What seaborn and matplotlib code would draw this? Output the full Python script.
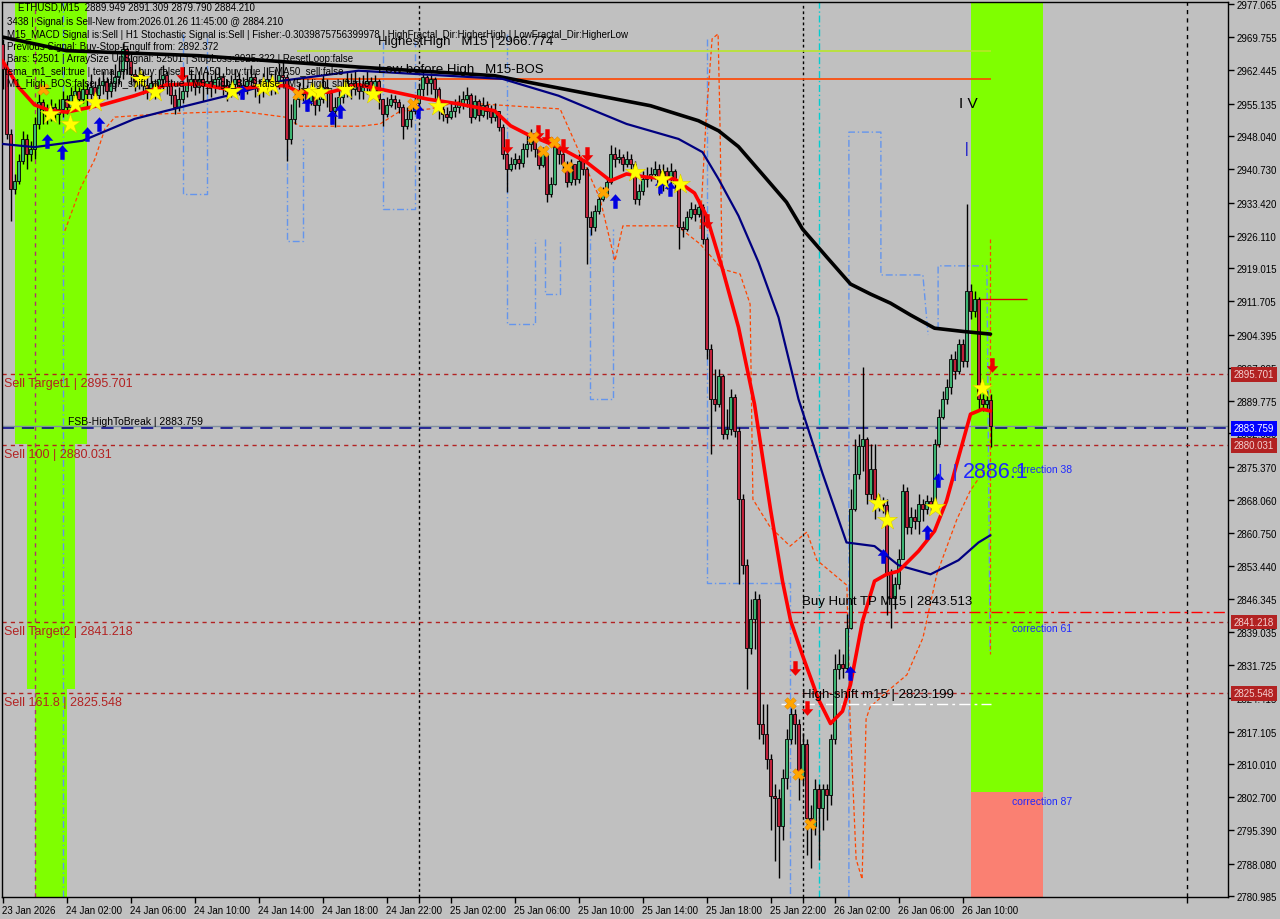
import numpy as np
import pandas as pd
import matplotlib
matplotlib.use("Agg")
import matplotlib.pyplot as plt
import matplotlib.transforms as mtransforms
from matplotlib.path import Path
import seaborn as sns

# ---------------- data ----------------
open_first = 2968.3
close = [2962.8, 2948.5, 2936.4, 2938.2, 2942.6, 2947.4, 2944.1, 2945.2, 2950.7, 2955.5,
         2954.0, 2952.5, 2954.4, 2952.9, 2954.0, 2956.2, 2954.4, 2957.1, 2958.0, 2956.2,
         2958.4, 2957.3, 2958.8, 2957.1, 2959.3, 2960.2, 2958.0, 2959.7, 2961.0, 2962.4,
         2967.2, 2964.6, 2961.7, 2960.2, 2961.5, 2959.3, 2958.4, 2959.7, 2958.0, 2960.6,
         2961.5, 2959.3, 2957.1, 2954.4, 2956.2, 2958.0, 2959.3, 2960.6, 2958.8, 2960.6,
         2959.5, 2960.2, 2958.8, 2960.6, 2961.0, 2959.3, 2958.0, 2959.5, 2960.6, 2959.3,
         2958.4, 2960.2, 2961.0, 2959.3, 2958.0, 2959.5, 2960.6, 2959.3, 2960.2, 2961.5,
         2961.0, 2947.4, 2951.8, 2956.2, 2957.3, 2958.4, 2955.8, 2957.3, 2954.9, 2956.2,
         2958.8, 2957.5, 2953.6, 2954.4, 2956.6, 2958.0, 2959.7, 2958.4, 2959.7, 2958.0,
         2958.8, 2960.2, 2958.0, 2960.2, 2956.2, 2952.9, 2954.9, 2956.2, 2955.5, 2954.4,
         2950.3, 2951.8, 2953.6, 2955.3, 2958.4, 2961.0, 2959.7, 2960.6, 2958.4, 2954.0,
         2952.9, 2952.2, 2953.6, 2954.4, 2955.3, 2956.2, 2957.1, 2952.2, 2955.8, 2952.7,
         2954.9, 2953.6, 2952.2, 2953.6, 2950.0, 2944.1, 2940.8, 2941.9, 2943.0, 2942.1,
         2945.2, 2946.3, 2947.8, 2945.2, 2941.7, 2944.1, 2935.3, 2937.5, 2945.6, 2944.1,
         2941.9, 2937.9, 2941.9, 2938.6, 2942.6, 2940.8, 2930.2, 2928.0, 2931.6, 2934.2,
         2935.3, 2937.9, 2944.1, 2943.0, 2943.4, 2941.9, 2943.0, 2941.9, 2934.2, 2936.0,
         2938.6, 2939.0, 2939.7, 2940.8, 2937.5, 2940.4, 2938.6, 2940.4, 2937.7, 2928.0,
         2927.6, 2930.2, 2932.0, 2930.9, 2932.4, 2925.4, 2901.2, 2890.2, 2889.1, 2895.3,
         2882.5, 2883.6, 2890.6, 2883.2, 2868.2, 2853.7, 2835.6, 2841.8, 2846.2, 2818.9,
         2816.5, 2811.0, 2802.9, 2802.6, 2796.3, 2807.0, 2815.4, 2820.9, 2818.7, 2807.3,
         2814.3, 2798.2, 2796.3, 2804.4, 2800.4, 2804.4, 2803.3, 2815.4, 2830.8, 2831.9,
         2831.2, 2840.0, 2866.0, 2873.7, 2879.9, 2881.4, 2869.3, 2874.8, 2868.2, 2867.5,
         2866.9, 2851.7, 2846.6, 2849.5, 2855.0, 2870.0, 2862.0, 2864.2, 2863.4, 2867.1,
         2866.0, 2867.8, 2867.1, 2880.3, 2886.2, 2890.2, 2892.8, 2899.0, 2896.4, 2902.3,
         2898.6, 2914.0, 2909.6, 2912.2, 2890.2, 2889.1, 2889.949, 2884.21]
high = [2969.4, 2964.6, 2949.6, 2939.7, 2944.1, 2949.2, 2948.5, 2947.0, 2952.2, 2957.3,
        2956.2, 2955.1, 2956.2, 2955.3, 2956.2, 2958.0, 2957.1, 2958.8, 2959.5, 2958.8,
        2960.6, 2959.7, 2961.7, 2960.2, 2961.0, 2962.4, 2961.0, 2962.8, 2963.9, 2965.4,
        2968.5, 2967.6, 2966.1, 2962.8, 2963.2, 2962.4, 2961.0, 2961.7, 2960.6, 2962.8,
        2963.7, 2962.4, 2960.6, 2958.4, 2958.8, 2960.2, 2961.5, 2962.8, 2961.7, 2962.4,
        2961.9, 2962.4, 2961.5, 2962.8, 2963.2, 2961.9, 2960.6, 2961.5, 2962.8, 2961.9,
        2961.0, 2962.4, 2963.7, 2961.9, 2960.6, 2961.9, 2963.2, 2961.9, 2962.8, 2964.1,
        2964.6, 2961.7, 2955.1, 2958.4, 2959.7, 2961.0, 2959.3, 2959.7, 2958.4, 2958.8,
        2961.5, 2960.6, 2958.4, 2956.6, 2959.3, 2960.6, 2962.4, 2961.9, 2962.4, 2961.0,
        2961.5, 2962.4, 2961.0, 2961.5, 2960.6, 2956.2, 2956.6, 2957.3, 2957.1, 2956.2,
        2955.1, 2954.4, 2955.3, 2956.6, 2959.5, 2962.1, 2961.5, 2961.9, 2961.0, 2958.8,
        2954.9, 2954.4, 2955.3, 2956.2, 2957.1, 2958.0, 2958.8, 2957.5, 2957.1, 2956.2,
        2956.6, 2955.8, 2954.9, 2955.3, 2953.6, 2950.7, 2944.8, 2943.4, 2944.3, 2943.9,
        2946.5, 2948.3, 2949.6, 2948.3, 2945.6, 2945.6, 2943.0, 2939.0, 2947.4, 2946.3,
        2945.2, 2942.6, 2943.0, 2941.2, 2944.1, 2943.0, 2941.2, 2931.6, 2932.9, 2935.5,
        2936.8, 2939.0, 2946.1, 2945.6, 2945.2, 2944.1, 2944.8, 2944.1, 2942.6, 2937.5,
        2940.4, 2941.2, 2941.2, 2942.6, 2941.9, 2941.9, 2941.2, 2942.1, 2940.8, 2938.6,
        2929.4, 2931.6, 2933.5, 2933.1, 2934.2, 2933.1, 2925.8, 2902.3, 2896.8, 2896.8,
        2895.7, 2888.0, 2892.4, 2891.3, 2884.0, 2869.3, 2855.0, 2846.2, 2848.0, 2847.3,
        2823.1, 2823.1, 2812.1, 2805.5, 2804.4, 2808.8, 2817.6, 2822.4, 2822.0, 2819.8,
        2816.9, 2815.4, 2801.1, 2806.6, 2805.5, 2805.5, 2805.5, 2816.5, 2834.1, 2835.2,
        2834.1, 2842.9, 2870.4, 2881.4, 2882.5, 2897.2, 2881.8, 2880.3, 2880.3, 2869.3,
        2868.6, 2868.2, 2852.8, 2851.0, 2857.2, 2871.5, 2870.8, 2866.4, 2866.0, 2869.3,
        2868.2, 2869.1, 2868.6, 2881.4, 2888.0, 2892.0, 2894.6, 2900.1, 2900.8, 2903.4,
        2903.4, 2933.1, 2915.5, 2914.0, 2912.6, 2891.3, 2891.9, 2891.309]
low = [2958.4, 2947.4, 2929.4, 2935.3, 2937.5, 2941.9, 2940.8, 2942.6, 2943.0, 2949.6,
       2950.7, 2950.7, 2951.4, 2951.4, 2950.7, 2952.2, 2952.9, 2953.6, 2955.1, 2954.4,
       2955.3, 2954.4, 2956.2, 2955.3, 2956.2, 2957.3, 2956.2, 2956.6, 2958.0, 2959.5,
       2960.6, 2961.7, 2959.5, 2958.0, 2958.4, 2957.3, 2956.2, 2957.1, 2956.2, 2956.6,
       2958.4, 2957.3, 2955.1, 2952.9, 2953.6, 2955.3, 2956.6, 2958.0, 2957.1, 2957.5,
       2955.8, 2957.3, 2956.6, 2957.5, 2958.4, 2957.1, 2955.8, 2956.6, 2958.0, 2957.1,
       2956.2, 2957.3, 2958.4, 2956.6, 2955.3, 2956.6, 2958.0, 2957.1, 2957.3, 2958.4,
       2958.8, 2942.6, 2946.3, 2950.7, 2954.4, 2955.8, 2953.6, 2954.9, 2952.7, 2953.6,
       2955.3, 2954.4, 2950.7, 2950.0, 2953.6, 2955.3, 2956.6, 2956.2, 2957.1, 2956.2,
       2956.2, 2957.3, 2956.2, 2956.9, 2954.0, 2950.3, 2952.2, 2954.4, 2954.0, 2953.1,
       2947.4, 2949.6, 2950.0, 2952.9, 2953.6, 2956.9, 2957.1, 2957.3, 2956.2, 2951.8,
       2951.4, 2950.9, 2951.8, 2952.2, 2953.1, 2954.0, 2954.4, 2950.9, 2951.8, 2951.4,
       2952.2, 2951.8, 2950.9, 2951.4, 2949.2, 2943.0, 2935.7, 2940.4, 2940.8, 2940.8,
       2941.2, 2943.4, 2944.8, 2943.4, 2940.8, 2941.2, 2933.5, 2934.6, 2937.3, 2941.9,
       2940.4, 2936.8, 2937.3, 2937.3, 2937.7, 2939.5, 2919.9, 2926.3, 2927.2, 2930.9,
       2933.8, 2935.1, 2937.5, 2941.2, 2942.1, 2940.4, 2941.2, 2940.4, 2933.1, 2932.9,
       2935.1, 2936.8, 2938.2, 2938.6, 2935.1, 2936.0, 2936.4, 2937.3, 2936.0, 2923.2,
       2925.8, 2927.2, 2929.8, 2929.4, 2930.2, 2924.3, 2899.0, 2878.1, 2887.6, 2888.4,
       2881.4, 2881.4, 2882.3, 2881.8, 2849.5, 2851.7, 2826.4, 2834.1, 2835.2, 2815.4,
       2814.3, 2808.8, 2795.6, 2788.6, 2785.0, 2793.4, 2804.4, 2814.3, 2814.3, 2802.2,
       2805.5, 2790.1, 2787.2, 2794.5, 2789.0, 2795.6, 2797.8, 2801.1, 2814.3, 2828.6,
       2829.0, 2830.4, 2839.6, 2865.6, 2872.6, 2874.4, 2867.1, 2868.2, 2863.8, 2865.6,
       2865.1, 2842.7, 2840.0, 2844.0, 2848.4, 2855.0, 2860.5, 2860.5, 2861.6, 2860.5,
       2863.4, 2864.9, 2865.6, 2866.0, 2879.6, 2885.8, 2889.1, 2891.3, 2894.6, 2895.7,
       2897.2, 2897.2, 2907.8, 2908.2, 2888.0, 2887.6, 2888.0, 2879.79]

# moving averages (bar index, price)
red_ma_bar = [0, 4, 8, 12, 16, 25, 33, 41, 49, 57, 66, 71, 74, 82, 89, 98, 106, 114, 123, 127,
              131, 139, 146, 152, 156, 161, 168, 173, 176, 180, 184, 188, 192, 195, 197, 200,
              204, 207, 210, 212, 215, 218, 221, 224, 229, 233, 236, 239, 242, 245, 247]
red_ma = [2964.6, 2958.8, 2954.9, 2953.6, 2953.3, 2954.9, 2956.9, 2959.3, 2959.5, 2958.2,
          2959.1, 2959.1, 2957.7, 2957.7, 2959.3, 2957.7, 2956.2, 2955.1, 2953.6, 2950.3,
          2948.5, 2945.6, 2942.3, 2938.2, 2939.7, 2939.0, 2938.6, 2935.5, 2930.5, 2918.8,
          2906.0, 2889.1, 2866.0, 2850.2, 2841.6, 2833.9, 2824.2, 2818.9, 2821.6, 2827.5,
          2841.4, 2850.2, 2851.7, 2852.4, 2856.8, 2861.2, 2867.8, 2877.4, 2886.9, 2888.0, 2887.6]
navy_ma_bar = [0, 8, 20, 33, 41, 58, 70, 89, 125, 139, 148, 156, 169, 175, 179, 184, 189, 194,
               199, 205, 211, 218, 224, 232, 239, 244, 247]
navy_ma = [2946.3, 2945.6, 2947.0, 2951.8, 2953.6, 2957.3, 2960.2, 2962.4, 2960.6, 2956.9,
           2953.6, 2950.7, 2947.4, 2944.5, 2938.6, 2930.5, 2920.3, 2908.2, 2890.2, 2873.9,
           2858.7, 2857.9, 2853.7, 2851.7, 2854.8, 2858.7, 2860.3]
black_ma_bar = [0, 16, 49, 89, 123, 149, 162, 174, 179, 184, 191, 196, 200, 206, 212, 217,
                222, 227, 233, 240, 247]
black_ma = [2969.8, 2966.8, 2965.7, 2963.2, 2961.3, 2956.9, 2954.7, 2951.4, 2949.2, 2945.7,
            2938.6, 2933.5, 2927.6, 2921.5, 2915.5, 2913.3, 2911.3, 2908.7, 2905.8, 2905.1,
            2904.5]

# signal markers (bar index, price)
star_bar = [11.9, 18.1, 16.9, 23.1, 34.4, 38.1, 57.4, 65.1, 67.4, 77.4, 79.4, 85.6, 92.6,
            108.9, 158.1, 164.9, 169.4, 218.9, 221.1, 233.1, 244.9]
star_price = [2952.9, 2955.1, 2950.7, 2955.5, 2960.6, 2957.7, 2957.9, 2958.8, 2959.3, 2957.9,
              2957.7, 2958.4, 2957.3, 2954.7, 2940.1, 2938.6, 2937.5, 2867.3, 2863.6, 2866.4,
              2892.6]
up_bar = [11.1, 14.9, 21.1, 24.1, 59.9, 76.1, 82.4, 84.4, 103.9, 153.1, 164.4, 166.9,
          211.9, 220.1, 231.1, 233.9]
up_price = [2947.0, 2944.5, 2948.5, 2950.7, 2957.7, 2955.1, 2952.2, 2953.6, 2953.6, 2933.8,
            2937.1, 2936.4, 2830.1, 2855.7, 2860.9, 2872.4]
down_bar = [44.9, 126.1, 133.9, 136.1, 140.1, 146.1, 176.1, 198.1, 201.1, 247.4]
down_price = [2961.7, 2945.9, 2948.9, 2948.1, 2945.9, 2944.1, 2929.4, 2831.0, 2822.4, 2897.7]
cross_bar = [10.1, 73.9, 102.6, 132.6, 135.1, 137.9, 141.1, 150.1, 196.9, 198.9, 201.9]
cross_price = [2958.4, 2957.3, 2955.1, 2947.8, 2944.8, 2946.7, 2941.2, 2935.7, 2823.5,
               2807.7, 2796.9]

# thin orange dotted envelope
orange_bar = [15.6, 19.4, 23.1, 25.6, 28.1, 39.4, 59.4, 70.6, 74.4, 89.4, 94.4, 99.4, 106.9,
              116.9, 119.4, 139.4, 149.4, 153.1, 155.1, 168.6, 174.4, 179.9, 184.4, 186.9,
              187.6, 191.9, 196.9, 201.1, 203.6, 211.1, 211.9, 213.4, 214.9, 215.9, 216.9,
              221.9, 226.1, 230.1, 233.6, 238.6, 241.9, 245.6]
orange_price = [2927.2, 2936.4, 2943.0, 2949.6, 2952.2, 2952.9, 2953.5, 2952.2, 2950.2,
                2950.2, 2950.7, 2953.5, 2954.0, 2956.2, 2955.1, 2954.0, 2934.2, 2920.6,
                2928.3, 2928.3, 2924.3, 2918.8, 2917.7, 2911.1, 2868.2, 2862.1, 2857.9,
                2861.0, 2854.8, 2849.3, 2819.9, 2789.1, 2784.7, 2819.9, 2822.5, 2826.5,
                2829.6, 2837.7, 2851.8, 2863.8, 2870.0, 2874.8]
orange_spike_bar = [174.4, 175.9, 177.4, 178.9, 179.4, 179.9]
orange_spike_price = [2927.6, 2951.8, 2969.4, 2970.5, 2949.6, 2918.8]

# blue dash-dot step paths (bar, price)
step_paths = [
    ([45.1, 45.1, 51.1, 51.1], [2970.5, 2935.3, 2935.3, 2970.5]),
    ([71.1, 71.1, 75.1, 75.1], [2945.2, 2924.9, 2924.9, 2947.4]),
    ([95.1, 95.1, 103.1, 103.1], [2968.7, 2932.0, 2932.0, 2968.7]),
    ([126.1, 126.1, 133.1, 133.1], [2970.5, 2906.7, 2906.7, 2925.4]),
    ([135.6, 135.6, 139.4, 139.4], [2925.4, 2913.3, 2913.3, 2925.4]),
    ([146.9, 146.9, 152.6, 152.6], [2927.6, 2890.2, 2890.2, 2927.6]),
    ([176.1, 176.1, 196.9, 196.9], [2969.4, 2849.8, 2849.8, 2780.8]),
    ([211.6, 211.6, 219.6, 219.6, 230.1, 231.4], [2780.8, 2948.9, 2948.9, 2917.5, 2917.5, 2904.3]),
    ([233.9, 233.9, 246.1, 246.9], [2905.6, 2919.5, 2919.5, 2834.6]),
]

# levels
sell_levels = [2895.701, 2880.031, 2841.218, 2825.548]
sell_names = ["Sell Target1 | 2895.701", "Sell 100 | 2880.031", "Sell Target2 | 2841.218",
              "Sell 161.8 | 2825.548"]
fsb_level = 2883.759
bid_level = 2884.21
highest_high = 2966.774
low_before_high = 2960.58
buy_hunt_tp = 2843.513
high_shift = 2823.199

ytick_vals = [2977.065, 2969.755, 2962.445, 2955.135, 2948.040, 2940.730, 2933.420, 2926.110,
              2919.015, 2911.705, 2904.395, 2897.085, 2889.775, 2882.680, 2875.370, 2868.060,
              2860.750, 2853.440, 2846.345, 2839.035, 2831.725, 2824.415, 2817.105, 2810.010,
              2802.700, 2795.390, 2788.080, 2780.985]
xtick_bars = [0, 16, 32, 48, 64, 80, 96, 112, 128, 144, 160, 176, 192, 208, 224, 240]
xtick_labels = ["23 Jan 2026", "24 Jan 02:00", "24 Jan 06:00", "24 Jan 10:00", "24 Jan 14:00",
                "24 Jan 18:00", "24 Jan 22:00", "25 Jan 02:00", "25 Jan 06:00", "25 Jan 10:00",
                "25 Jan 14:00", "25 Jan 18:00", "25 Jan 22:00", "26 Jan 02:00", "26 Jan 06:00",
                "26 Jan 10:00"]

# ---------------- styling ----------------
sns.set_theme(style="white")
plt.rcParams['font.family'] = ['Liberation Sans', 'DejaVu Sans']
BG = '#C0C0C0'

fig = plt.figure(figsize=(12.8, 9.2), dpi=100, facecolor=BG)
ax = fig.add_axes([2 / 1280, 22 / 920, 1226 / 1280, 895 / 920])
ax.set_facecolor(BG)
ax.set_xlim(-0.125, 306.375)
ax.set_ylim(2780.77, 2977.5)

# ---------------- bands ----------------
LIME = '#7FFF00'
ax.fill_between([3.1, 21.1], 2880.3, 2978, color=LIME, lw=0, zorder=0)
ax.fill_between([6.1, 18.1], 2826.4, 2880.3, color=LIME, lw=0, zorder=0)
ax.fill_between([8.1, 16.1], 2770, 2826.4, color=LIME, lw=0, zorder=0)
ax.fill_between([242.1, 260.1], 2803.85, 2978, color=LIME, lw=0, zorder=0)
ax.fill_between([242.1, 260.1], 2770, 2803.85, color='#FA8072', lw=0, zorder=0)

# ---------------- vertical lines ----------------
for b in [104, 200]:
    ax.axvline(b, color='black', lw=1, ls=(0, (2, 2)), zorder=1)
ax.axvline(296, color='black', lw=1, ls=(0, (3, 3)), zorder=1)
ax.axvline(8, color='#B03070', lw=1, ls=(0, (3, 3)), zorder=1)
ax.axvline(15, color='#6495ED', lw=1, ls=(0, (5, 2, 1, 2)), zorder=1)
ax.axvline(204.1, color='#00CED1', lw=1, ls=(0, (5, 2, 1, 2)), zorder=1)

for xs, ys in step_paths:
    ax.plot(xs, ys, color='#6495ED', lw=1, ls=(0, (5, 2, 1, 2)), zorder=1.5)

ax.plot(orange_bar, orange_price, color='#FF4500', lw=0.9, ls=(0, (3, 2)), zorder=1.5)
ax.plot(orange_spike_bar, orange_spike_price, color='#FF4500', lw=0.9, ls=(0, (3, 2)),
        zorder=1.5)
ax.plot([246.9, 246.9], [2925.4, 2834.2], color='#FF4500', lw=0.9, ls=(0, (3, 2)), zorder=1.5)

# ---------------- horizontal lines ----------------
for lv in sell_levels:
    ax.axhline(lv, color='#B22222', lw=1, ls=(0, (3, 3)), zorder=2)
ax.axhline(bid_level, color='#8090A0', lw=1, zorder=2)
ax.axhline(fsb_level, color='#00008B', lw=1.1, ls=(0, (8, 5)), zorder=2)
ax.hlines(highest_high, 73.6, 247, color='#B8E62A', lw=1.2, zorder=2)
ax.hlines(low_before_high, 74.4, 247, color='#FF4500', lw=1.2, zorder=2)
ax.hlines(buy_hunt_tp, 197, 306.4, color='#FF0000', lw=1, ls=(0, (8, 3, 2, 3)), zorder=2)
ax.hlines(high_shift, 194.5, 247, color='white', lw=1, ls=(0, (8, 3, 2, 3)), zorder=2)
ax.hlines(2912.2, 244.4, 256.1, color='#E00000', lw=1, zorder=2)

# ---------------- candles ----------------
opens = [open_first] + close[:-1]
df = pd.DataFrame({'bar': np.arange(len(close)), 'open': opens, 'close': close,
                   'high': high, 'low': low})
df['bottom'] = df[['open', 'close']].min(axis=1)
df['body'] = (df['close'] - df['open']).abs().clip(lower=0.25)
df['color'] = np.where(df['close'] >= df['open'], '#3CB371', '#C0203A')
ax.vlines(df['bar'], df['low'], df['high'], color='black', lw=1, zorder=3)
ax.bar(df['bar'], df['body'], bottom=df['bottom'], width=0.72, color=df['color'],
       edgecolor='black', linewidth=0.6, zorder=3.1)

# ---------------- moving averages ----------------
sns.lineplot(x=black_ma_bar, y=black_ma, ax=ax, color='black', lw=2.6, sort=False,
             legend=False, zorder=4)
sns.lineplot(x=navy_ma_bar, y=navy_ma, ax=ax, color='#000080', lw=1.6, sort=False,
             legend=False, zorder=4)
sns.lineplot(x=red_ma_bar, y=red_ma, ax=ax, color='#FF0000', lw=2.6, sort=False,
             legend=False, zorder=4.2)

# ---------------- markers ----------------
up_arrow = Path([(0, 1), (-0.8, 0.1), (-0.3, 0.1), (-0.3, -1), (0.3, -1), (0.3, 0.1),
                 (0.8, 0.1), (0, 1)])
down_arrow = Path([(0, -1), (-0.8, -0.1), (-0.3, -0.1), (-0.3, 1), (0.3, 1), (0.3, -0.1),
                   (0.8, -0.1), (0, -1)])
ax.scatter(up_bar, up_price, marker=up_arrow, s=110, color='#0000E0', lw=0, zorder=5)
ax.scatter(down_bar, down_price, marker=down_arrow, s=110, color='#F00000', lw=0, zorder=5)
sns.scatterplot(x=cross_bar, y=cross_price, ax=ax, marker='X', s=70, color='#FFA500',
                edgecolor='#E08000', linewidth=0.3, legend=False, zorder=5)
sns.scatterplot(x=star_bar, y=star_price, ax=ax, marker='*', s=230, color='#FFFF00',
                edgecolor='#D0C000', linewidth=0.3, legend=False, zorder=5)

# ---------------- level labels ----------------
for lv, nm in zip(sell_levels, sell_names):
    ax.text(0.3, lv - 0.6, nm, color='#B22222', fontsize=9, ha='left', va='top', zorder=6)
ax.text(16.4, fsb_level + 0.6, "FSB-HighToBreak | 2883.759", color='black', fontsize=7.5,
        ha='left', va='bottom', zorder=6)
ax.text(94, highest_high + 0.8, "HighestHigh   M15 | 2966.774", color='black', fontsize=9.5,
        ha='left', va='bottom', zorder=6)
ax.text(94, low_before_high + 0.8, "Low before High   M15-BOS", color='black', fontsize=9.5,
        ha='left', va='bottom', zorder=6)
ax.text(200, buy_hunt_tp + 0.9, "Buy Hunt TP M15 | 2843.513", color='black', fontsize=9.5,
        ha='left', va='bottom', zorder=6)
ax.text(200, high_shift + 0.9, "High-shift m15 | 2823.199", color='black', fontsize=9.5,
        ha='left', va='bottom', zorder=6)
ax.text(234, 2874.3, "|  |", color='#1E28FF', fontsize=13, ha='left', va='center', zorder=6)
ax.text(240.1, 2874.3, "2886.1", color='#1E28FF', fontsize=15.5, ha='left', va='center',
        zorder=6)
ax.text(252.3, 2874.9, "correction 38", color='#1E28FF', fontsize=7.5, ha='left',
        va='center', zorder=6)
ax.text(252.3, 2840.0, "correction 61", color='#1E28FF', fontsize=7.5, ha='left',
        va='center', zorder=6)
ax.text(252.3, 2801.9, "correction 87", color='#1E28FF', fontsize=7.5, ha='left',
        va='center', zorder=6)
ax.text(241.5, 2955.4, "I V", color='black', fontsize=11, ha='center', va='center', zorder=6)
ax.text(241.1, 2945.5, "|", color='#0000CD', fontsize=10, ha='center', va='center', zorder=6)

# ---------------- info block ----------------
info = [
    (18, 8, "ETHUSD,M15  2889.949 2891.309 2879.790 2884.210"),
    (7, 22, "3438 | Signal is Sell-New from:2026.01.26 11:45:00 @ 2884.210"),
    (7, 35, "M15_MACD Signal is:Sell | H1 Stochastic Signal is:Sell | Fisher:-0.3039875756399978 | HighFractal_Dir:HigherHigh | LowFractal_Dir:HigherLow"),
    (7, 47, "Previous Signal: Buy-Stop-Engulf from: 2892.372"),
    (7, 59, "Bars: 52501 | ArraySize UpSignal: 52501 | StopLoss:2925.322 | ResetLoop:false"),
    (5, 72, "tema_m1_sell:true | tema_m1_buy: false | EMA50_buy:true | EMA50_sell:false"),
    (7, 84, "M1_High_BOS:false | High_shift_m1:true | M5_High_BOS:false | M5_High_shift:true"),
]
for px, py, t in info:
    fig.text(px / 1280, 1 - py / 920, t, fontsize=7, color='black', ha='left', va='center',
             zorder=7)

# ---------------- axes / ticks ----------------
for sp in ax.spines.values():
    sp.set_color('black')
    sp.set_linewidth(1)
    sp.set_visible(True)
ax.yaxis.tick_right()
ax.set_yticks(ytick_vals)
ax.set_yticklabels([f"{v:.3f}" for v in ytick_vals])
ax.tick_params(axis='y', which='both', left=False, right=True, labelleft=False,
               labelright=True, direction='out', length=4, width=1, pad=2,
               labelsize=7, colors='black')
ax.set_xticks(xtick_bars + [104, 200, 296])
ax.set_xticklabels(xtick_labels + ["", "", ""])
ax.tick_params(axis='x', which='both', bottom=True, top=False, direction='out', length=4,
               width=1, pad=2, labelsize=7, colors='black')
for lbl in ax.get_xticklabels():
    lbl.set_ha('left')
ax.set_xlabel("")
ax.set_ylabel("")
ax.grid(False)

# price boxes on the right axis
btr = mtransforms.blended_transform_factory(ax.transAxes, ax.transData)
boxes = [(2895.701, '#B22222', '#F4D0D0'), (fsb_level, '#0000FF', 'white'),
         (2880.031, '#B22222', '#F4D0D0'), (2841.218, '#B22222', '#F4D0D0'),
         (2825.548, '#B22222', '#F4D0D0')]
for lv, fc, tc in boxes:
    ax.text(1.0048, lv, f"{lv:.3f}", transform=btr, color=tc, fontsize=7, ha='left',
            va='center', clip_on=False, zorder=8,
            bbox=dict(boxstyle='square,pad=0.25', fc=fc, ec='none'))

fig.savefig("out.png", dpi=100, facecolor=BG)
